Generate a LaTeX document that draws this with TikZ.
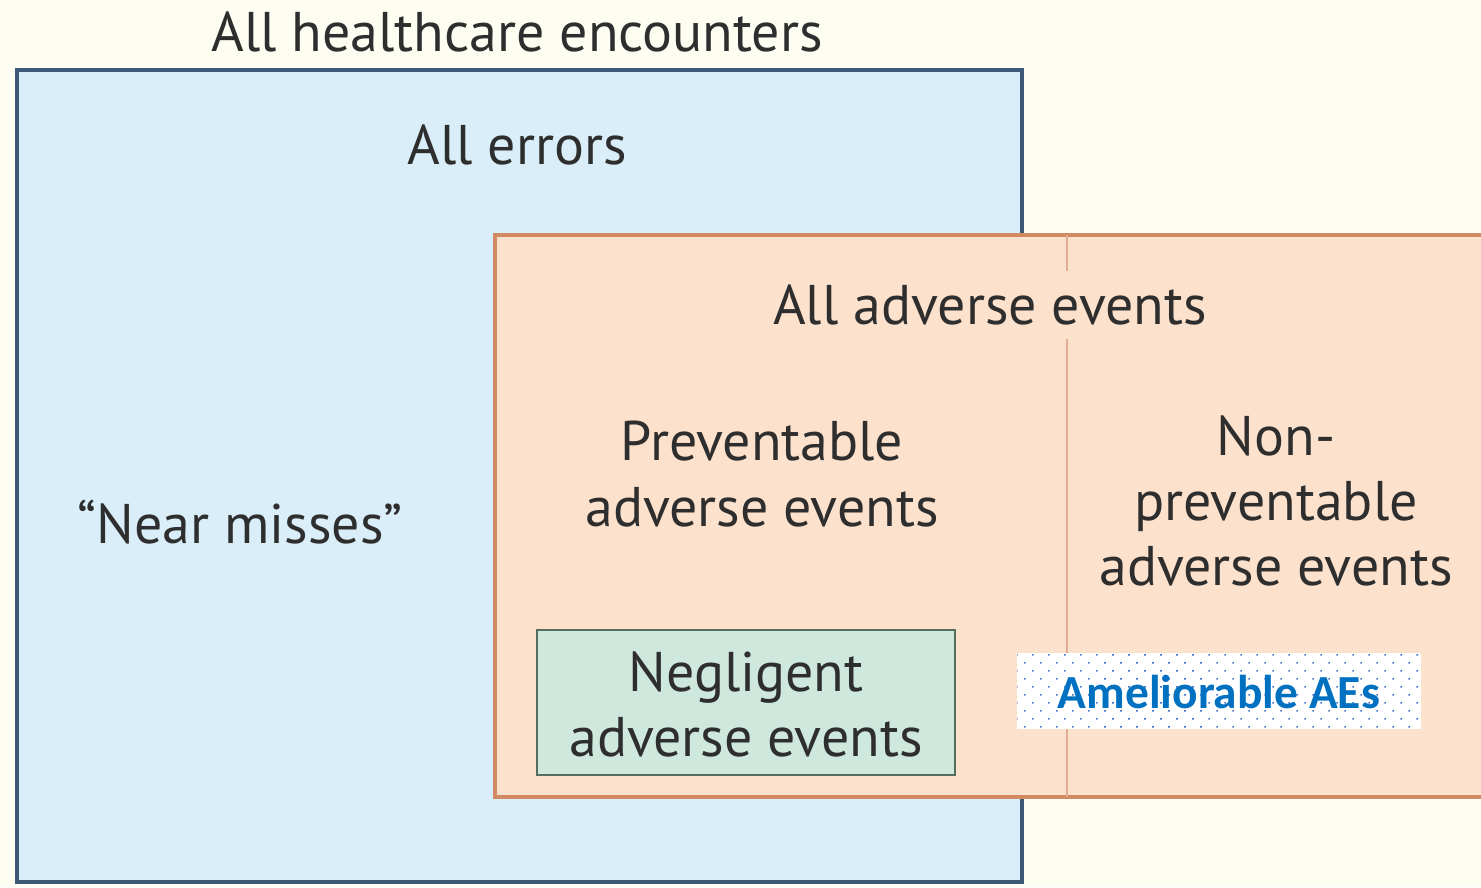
\documentclass[tikz,border=0pt]{standalone}
\usepackage{fontspec}
\setmainfont{PT Sans}
\newfontfamily\amfont{Carlito}
\usetikzlibrary{patterns.meta}

\definecolor{paper}   {HTML}{FDFDF2}
\definecolor{errfill} {HTML}{D9EEF8}
\definecolor{errline} {HTML}{3E5878}
\definecolor{aefill}  {HTML}{FCE1CC}
\definecolor{aeline}  {HTML}{D28A62}
\definecolor{negfill} {HTML}{CFE8DE}
\definecolor{negline} {HTML}{546E5E}
\definecolor{ink}     {HTML}{2E2E2E}
\definecolor{amblue}  {HTML}{0070C0}
\definecolor{dotblue} {HTML}{4472C4}

\begin{document}
\begin{tikzpicture}[x=0.01cm, y=-0.01cm,
    lbl/.style={font=\fontsize{15.9}{18.5}\selectfont, text=ink, align=center, inner sep=1pt}]
    %--- Ramme og bakgrunn ---
    \clip (0,0) rectangle (1481,887);
    \fill[paper] (0,0) rectangle (1481,887);
    %--- Alle feil ---
    \draw[errline, line width=1.2pt, fill=errfill] (17,70) rectangle (1022,882);
    \node[lbl] (encounters) at (517,32) {All healthcare encounters};
    \node[lbl] (errors) at (517,145) {All errors};
    \node[lbl] (nearmiss) at (240,522) {“Near misses”};
    %--- Alle uonskede hendelser ---
    \draw[aeline, line width=0.9pt, fill=aefill] (495,235) rectangle (1500,797);
    \draw[aeline!70, line width=0.6pt] (1067,235) -- (1067,797);
    \node[lbl, fill=aefill, inner sep=4pt] (adverse) at (990,305) {All adverse events};
    \node[lbl] (preventable) at (762,474) {Preventable\\adverse events};
    \node[lbl] (nonprev) at (1276,501) {Non-\\preventable\\adverse events};
    %--- Uaktsomme hendelser ---
    \draw[negline, line width=0.8pt, fill=negfill] (537,630) rectangle (955,775);
    \node[lbl] (negligent) at (746,704) {Negligent\\adverse events};
    %--- Ameliorable ---
    \fill[white] (1017,653) rectangle (1421,729);
    \fill[pattern={Dots[distance=3.22pt, angle=45, radius=0.32pt]}, pattern color=dotblue] (1017,653) rectangle (1421,729);
    \node[font=\amfont\bfseries\fontsize{13.5}{16}\selectfont, text=amblue, inner sep=1pt] (amelior) at (1219,692) {Ameliorable AEs};
\end{tikzpicture}
\end{document}
